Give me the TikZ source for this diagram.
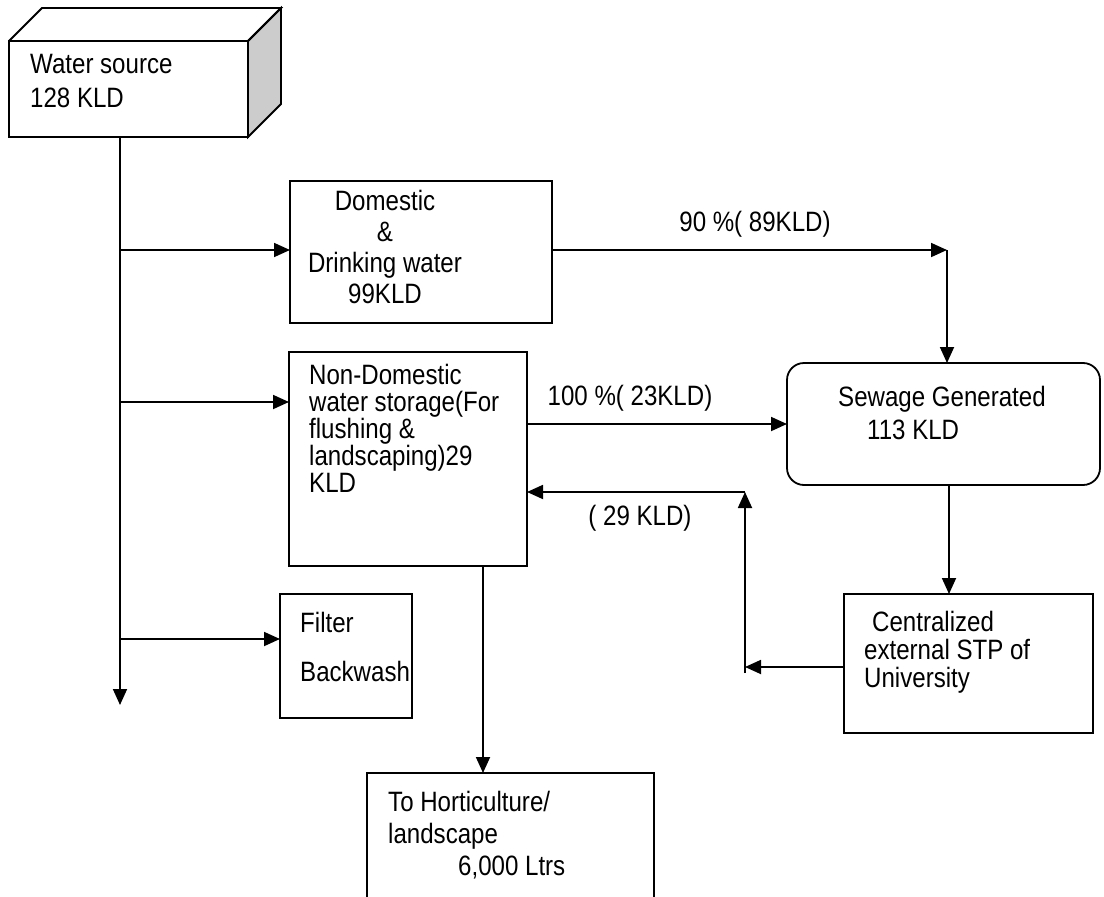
\documentclass[tikz,border=0pt]{standalone}
\usepackage{fontspec}
\setmainfont{Liberation Sans}[FakeStretch=0.86]
\usetikzlibrary{positioning,arrows.meta}

\begin{document}
\begin{tikzpicture}[x=1pt,y=-1pt,
    box/.style={draw,line width=1.8pt,anchor=north west,inner sep=0pt,outer sep=0pt},
    txt/.style={anchor=north west,inner sep=0pt,align=left,font=\fontsize{28}{#1}\selectfont},
    lbl/.style={inner sep=0pt,font=\fontsize{28}{30}\selectfont},
    arr/.style={line width=1.8pt,-{Triangle[length=16pt,width=14pt]}}]
\clip (0,0) rectangle (1104,897);

% boxes
\node [box,minimum width=239pt,minimum height=96pt] (source) at (9,41) {};
\draw [line width=1.8pt,fill=gray!40] (source.north east) -- ++(33,-33) -- ++(0,96) -- (source.south east) -- cycle;
\draw [line width=1.8pt] (source.north west) -- ++(33,-33) -- ++(239,0) -- (source.north east);
\node [box,minimum width=262pt,minimum height=142pt] (dom) at (290,181) {};
\node [box,minimum width=238pt,minimum height=214pt] (nondom) at (289,352) {};
\node [box,minimum width=132pt,minimum height=124pt] (filter) at (280,594) {};
\node [box,minimum width=287pt,minimum height=160pt] (hort) at (367,773) {};
\node [box,minimum width=313pt,minimum height=122pt,rounded corners=17pt] (sewage) at (787,363) {};
\node [box,minimum width=249pt,minimum height=139pt] (stp) at (844,594) {};

% texts
\node [txt=34] (sourcetxt) at (30,54) {Water source\\128 KLD};
\node [txt=31,anchor=north,align=center] (domtxt) at (385,190) {Domestic\\\&\\Drinking water\\99KLD};
\node [txt=27] (nondomtxt) at (309,364) {Non-Domestic\\water storage(For\\flushing \&\\landscaping)29\\KLD};
\node [txt=49] (filtertxt) at (300,612) {Filter\\Backwash};
\node [txt=32] (horttxt) at (388,791) {To Horticulture/\\landscape\\\hspace*{70pt}6,000 Ltrs};
\node [txt=33] (sewagetxt) at (838,386) {Sewage Generated\\\hspace*{29pt}113 KLD};
\node [txt=28] (stptxt) at (864,611) {\hspace*{8pt}Centralized\\external STP of\\University};

\node [lbl] (l90) at (755,224) {90 \%( 89KLD)};
\node [lbl] (l100) at (630,398) {100 \%( 23KLD)};
\node [lbl] (l29) at (640,518) {( 29 KLD)};

% connectors
\coordinate (trunk) at (120,137);
\coordinate (trunkend) at (120,705);
\coordinate (b1) at (120,250);
\coordinate (b2) at (120,402);
\coordinate (b3) at (120,639);
\coordinate (c1) at (947,250);
\coordinate (s1) at (949,0);
\coordinate (h1) at (483,0);
\coordinate (f1) at (745,667);
\coordinate (f2) at (745,492);

\draw [arr] (trunk) -- (trunkend);
\draw [arr] (b1) -- (b1 -| dom.west);
\draw [arr] (b2) -- (b2 -| nondom.west);
\draw [arr] (b3) -- (b3 -| filter.west);
\draw [arr] (b1 -| dom.east) -- (c1);
\draw [arr] (c1) -- (c1 |- sewage.north);
\draw [arr] (nondom.east |- sewage.west) -- (sewage.west);
\draw [arr] (s1 |- sewage.south) -- (s1 |- stp.north);
\draw [arr] (f1 -| stp.west) -- (f1);
\draw [arr] ([yshift=-6pt]f1) -- (f2);
\draw [arr] (f2) -- (f2 -| nondom.east);
\draw [arr] (h1 |- nondom.south) -- (h1 |- hort.north);
\end{tikzpicture}
\end{document}
